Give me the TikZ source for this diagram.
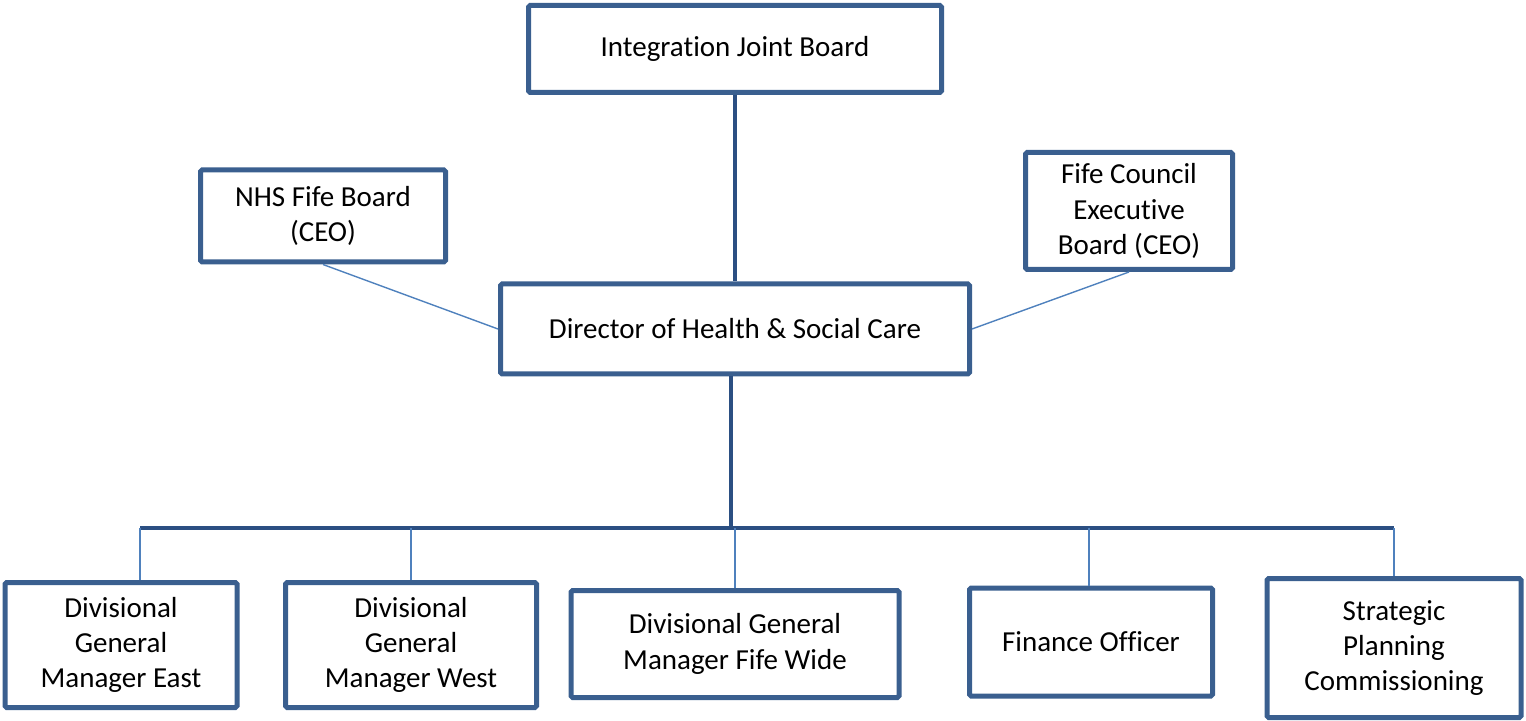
\documentclass[tikz,border=0pt]{standalone}
\usepackage{fontspec}
\setmainfont{Carlito}[Ligatures={NoCommon}, Contextuals={NoAlternate}]
\definecolor{boxblue}{HTML}{3A5F8F}
\definecolor{linkdark}{HTML}{2B4F82}
\definecolor{linklight}{HTML}{4F81BD}
\begin{document}
\begin{tikzpicture}[x=0.5pt, y=-0.5pt,
  main node/.style={draw=boxblue, line width=2.5pt, rounded corners=0.8pt, align=center, inner sep=0pt, font=\fontsize{14.5}{17.7}\selectfont},
  thick link/.style={draw=linkdark, line width=1.9pt},
  thin link/.style={draw=linklight, line width=0.7pt}]
\useasboundingbox (0,0) rectangle (1526,721);
% sizes in pt, half the picture units
\node[main node, minimum width=206.5pt, minimum height=43.5pt] (ijb) at (735,49) {Integration Joint Board};
\node[main node, minimum width=122.5pt, minimum height=46pt] (nhs) at (323,216) {NHS Fife Board\\(CEO)};
\node[main node, minimum width=103.5pt, minimum height=58.5pt] (fc) at (1129,211) {Fife Council\\Executive\\Board (CEO)};
\node[main node, minimum width=234.5pt, minimum height=45pt] (dir) at (735,329) {Director of Health \& Social Care};
\node[main node, minimum width=116pt, minimum height=62.5pt] (east) at (121,645) {Divisional\\General\\Manager East};
\node[main node, minimum width=125.5pt, minimum height=62.5pt] (west) at (411,645) {Divisional\\General\\Manager West};
\node[main node, minimum width=164pt, minimum height=53.5pt] (wide) at (735,644) {Divisional General\\Manager Fife Wide};
\node[main node, minimum width=121.5pt, minimum height=54pt] (fin) at (1091,642) {Finance Officer};
\node[main node, minimum width=127pt, minimum height=69.5pt] (sp) at (1394,648) {Strategic\\Planning\\Commissioning};
\coordinate (bus) at (731,528);
\coordinate (busl) at (140,528);
\coordinate (busr) at (1394,528);
\path[thick link] (ijb.south) -- (dir.north);
\path[thick link] (dir.south -| bus) -- (bus);
\path[thick link] (busl) -- (busr);
\path[thin link] (nhs.south) -- (dir.west);
\path[thin link] (fc.south) -- (dir.east);
\foreach \n/\x in {east/140, west/411, wide/735, fin/1089, sp/1394}
  \path[thin link] (\x,528) -- (\x,528 |- \n.north);
\end{tikzpicture}
\end{document}
